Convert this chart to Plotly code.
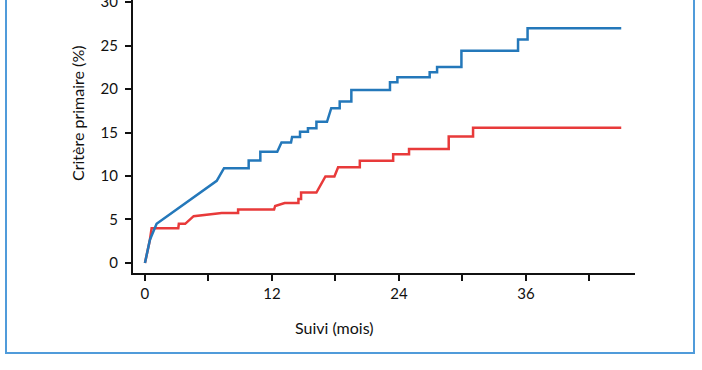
import plotly.graph_objects as go

# Blue curve vertices (months, %)
blue_months = [0, 0.47, 1.1, 6.78, 7.47, 9.8, 9.8, 10.9, 10.9, 12.5, 12.9, 13.8, 13.9, 14.65, 14.65,
               15.4, 15.4, 16.2, 16.2, 17.2, 17.6, 18.4, 18.4, 19.5, 19.5, 23.15, 23.15, 23.85, 23.85,
               26.9, 26.9, 27.6, 27.6, 29.9, 29.9, 35.25, 35.25, 36.15, 36.15, 45.0]
blue_pct = [0, 2.67, 4.5, 9.45, 10.9, 10.9, 11.8, 11.8, 12.8, 12.8, 13.85, 13.85, 14.5, 14.5, 15.08,
            15.08, 15.5, 15.5, 16.24, 16.24, 17.8, 17.8, 18.57, 18.57, 19.9, 19.9, 20.8, 20.8, 21.35,
            21.35, 21.95, 21.95, 22.55, 22.55, 24.4, 24.4, 25.7, 25.7, 27.0, 27.0]

# Red curve vertices (months, %)
red_months = [0, 0.47, 0.63, 3.15, 3.2, 3.8, 4.6, 7.25, 8.8, 8.8, 12.2, 12.3, 13.2, 14.5, 14.5, 14.75,
              14.75, 16.2, 17.05, 17.9, 18.25, 20.3, 20.3, 23.45, 23.45, 24.95, 24.95, 28.7, 28.7,
              31.0, 31.0, 45.0]
red_pct = [0, 2.67, 4.0, 4.0, 4.5, 4.5, 5.38, 5.75, 5.75, 6.15, 6.15, 6.55, 6.9, 6.9, 7.35, 7.35,
           8.1, 8.1, 9.95, 9.95, 11.0, 11.0, 11.75, 11.75, 12.5, 12.5, 13.1, 13.1, 14.55, 14.55,
           15.55, 15.55]

x_tickvals = [0, 6, 12, 18, 24, 30, 36, 42]
x_ticktext = ["0", "", "12", "", "24", "", "36", ""]
y_tickvals = [0, 5, 10, 15, 20, 25, 30]

BLUE = "rgb(36,120,186)"
RED = "rgb(232,58,58)"
FRAME = "rgb(80,155,218)"
FONT = "Lato"
TXT = "#111111"

fig = go.Figure()
fig.add_trace(go.Scatter(x=red_months, y=red_pct, mode="lines",
                         line=dict(color=RED, width=2.5), showlegend=False))
fig.add_trace(go.Scatter(x=blue_months, y=blue_pct, mode="lines",
                         line=dict(color=BLUE, width=2.5), showlegend=False))

fig.update_layout(
    width=702, height=370,
    margin=dict(l=133, r=67, t=0, b=97, pad=0),
    paper_bgcolor="white", plot_bgcolor="white",
    font=dict(family=FONT, size=15, color=TXT),
    xaxis=dict(range=[-1.13, 46.3], tickvals=x_tickvals, ticktext=x_ticktext,
               showline=True, linecolor=TXT, linewidth=2, ticks="outside",
               ticklen=6, tickwidth=1.5, tickcolor=TXT, showgrid=False, zeroline=False,
               tickfont=dict(size=15, family=FONT, color=TXT)),
    yaxis=dict(range=[-1.156, 30.25], tickvals=y_tickvals, automargin=False,
               showline=True, linecolor=TXT, linewidth=2, ticks="outside",
               ticklen=6, tickwidth=1.5, tickcolor=TXT, showgrid=False, zeroline=False,
               ticklabeloverflow="allow", ticklabelstandoff=4,
               tickfont=dict(size=15, family=FONT, color=TXT)),
    annotations=[
        dict(text="Suivi (mois)", xref="paper", yref="paper", x=(334 - 133) / 502,
             y=(273 - 327) / 273,
             showarrow=False, font=dict(size=16, family=FONT, color=TXT),
             xanchor="center", yanchor="middle"),
        dict(text="Critère primaire (%)", xref="paper", yref="paper", x=(78 - 133) / 502,
             y=(273 - 114) / 273, textangle=-90, showarrow=False,
             font=dict(size=16, family=FONT, color=TXT),
             xanchor="center", yanchor="middle"),
    ],
    shapes=[
        dict(type="rect", xref="paper", yref="paper",
             x0=(6 - 133) / 502, x1=(694 - 133) / 502,
             y0=(273 - 353) / 273, y1=1.2,
             line=dict(color=FRAME, width=2), fillcolor="rgba(0,0,0,0)", layer="below"),
    ],
)

fig.write_html("out.html", config={"displayModeBar": False},
               post_script="document.body.style.margin='0px';")
